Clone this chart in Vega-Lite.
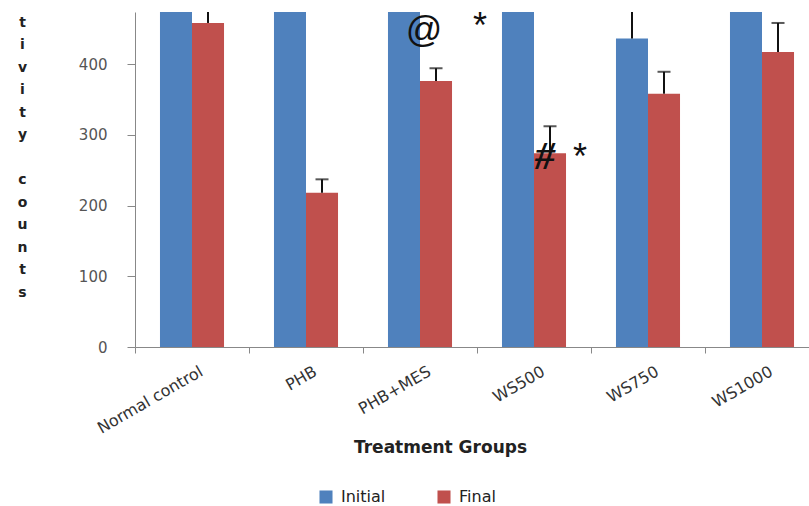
{
  "$schema": "https://vega.github.io/schema/vega-lite/v6.json",
  "autosize": "none",
  "width": 674,
  "height": 335,
  "padding": {"left": 135, "top": 12, "right": 0, "bottom": 159},
  "background": "white",
  "config": {"view": {"stroke": null}, "font": "DejaVu Sans"},
  "datasets": {
    "bars": [
      {"group": "Normal control", "series": "Initial", "value": 560, "upper": 600},
      {"group": "Normal control", "series": "Final", "value": 458, "upper": 500},
      {"group": "PHB", "series": "Initial", "value": 560, "upper": 600},
      {"group": "PHB", "series": "Final", "value": 218, "upper": 237},
      {"group": "PHB+MES", "series": "Initial", "value": 550, "upper": 590},
      {"group": "PHB+MES", "series": "Final", "value": 376, "upper": 394},
      {"group": "WS500", "series": "Initial", "value": 540, "upper": 580},
      {"group": "WS500", "series": "Final", "value": 274, "upper": 312},
      {"group": "WS750", "series": "Initial", "value": 436, "upper": 500},
      {"group": "WS750", "series": "Final", "value": 358, "upper": 389},
      {"group": "WS1000", "series": "Initial", "value": 520, "upper": 560},
      {"group": "WS1000", "series": "Final", "value": 417, "upper": 458}
    ],
    "at": [{"group": "PHB+MES", "label": "@", "value": 447}],
    "hash": [{"group": "WS500", "label": "#", "value": 268}],
    "star1": [{"group": "PHB+MES", "label": "*", "value": 461}],
    "star2": [{"group": "WS500", "label": "*", "value": 275}]
  },
  "encoding": {
    "x": {
      "field": "group",
      "type": "nominal",
      "sort": ["Normal control", "PHB", "PHB+MES", "WS500", "WS750", "WS1000"],
      "scale": {"range": [0, 684], "paddingInner": 0, "paddingOuter": 0},
      "axis": {
        "title": "Treatment Groups",
        "titleFont": "DejaVu Sans",
        "titleFontWeight": "bold",
        "titleFontSize": 17,
        "titleColor": "#222222",
        "titleX": 305,
        "titleY": 100,
        "titleAlign": "center",
        "titleBaseline": "middle",
        "labelAngle": -30,
        "labelAlign": "right",
        "labelBaseline": "top",
        "labelPadding": 10,
        "labelFontSize": 16,
        "labelColor": "#333333",
        "labelFont": "DejaVu Sans",
        "domainColor": "#888888",
        "tickColor": "#888888",
        "tickBand": "extent",
        "tickSize": 6,
        "labelOffset": 5,
        "grid": false
      }
    }
  },
  "layer": [
    {
      "data": {"name": "bars"},
      "mark": {"type": "bar", "clip": true},
      "encoding": {
        "xOffset": {"field": "series", "type": "nominal", "scale": {"domain": ["Initial", "Final"], "paddingInner": 0, "paddingOuter": 0.78}},
        "y": {
          "field": "value",
          "type": "quantitative",
          "scale": {"domain": [0, 473.5], "nice": false, "zero": true},
          "axis": {
            "title": ["t", "i", "v", "i", "t", "y", "\u2800", "c", "o", "u", "n", "t", "s"],
            "titleAngle": 0,
            "titleX": -113,
            "titleY": 3,
            "titleAlign": "center",
            "titleBaseline": "top",
            "titleLineHeight": 22.5,
            "titleFont": "DejaVu Sans",
            "titleFontWeight": "bold",
            "titleFontSize": 14,
            "titleColor": "#222222",
            "values": [0, 100, 200, 300, 400],
            "labelFontSize": 15,
            "labelColor": "#555555",
            "labelFont": "DejaVu Sans",
            "labelPadding": 20,
            "tickSize": 8,
            "tickColor": "#888888",
            "domainColor": "#888888",
            "grid": false
          }
        },
        "color": {
          "field": "series",
          "type": "nominal",
          "scale": {"domain": ["Initial", "Final"], "range": ["#4F81BD", "#C0504D"]},
          "legend": {
            "title": null,
            "orient": "none",
            "direction": "horizontal",
            "legendX": 183,
            "legendY": 477,
            "symbolType": "square",
            "symbolSize": 170,
            "symbolStrokeWidth": 0,
            "labelFontSize": 16,
            "labelFont": "DejaVu Sans",
            "labelColor": "#222222",
            "columnPadding": 50,
            "labelOffset": 7
          }
        }
      }
    },
    {
      "data": {"name": "bars"},
      "mark": {"type": "rule", "color": "#111111", "strokeWidth": 2, "clip": true},
      "encoding": {
        "xOffset": {"field": "series", "type": "nominal", "scale": {"domain": ["Initial", "Final"]}},
        "y": {"field": "value", "type": "quantitative"},
        "y2": {"field": "upper"}
      }
    },
    {
      "data": {"name": "bars"},
      "mark": {"type": "tick", "color": "#111111", "thickness": 2, "size": 13, "clip": true},
      "encoding": {
        "xOffset": {"field": "series", "type": "nominal", "scale": {"domain": ["Initial", "Final"]}},
        "y": {"field": "upper", "type": "quantitative"}
      }
    },
    {
      "data": {"name": "at"},
      "mark": {"type": "text", "font": "Liberation Sans", "fontSize": 36, "color": "#111111", "dx": 4, "baseline": "middle"},
      "encoding": {
        "y": {"field": "value", "type": "quantitative"},
        "text": {"field": "label"}
      }
    },
    {
      "data": {"name": "hash"},
      "mark": {"type": "text", "font": "Liberation Serif", "fontStyle": "italic", "fontWeight": "bold", "fontSize": 40, "color": "#111111", "dx": 11, "baseline": "middle"},
      "encoding": {
        "y": {"field": "value", "type": "quantitative"},
        "text": {"field": "label"}
      }
    },
    {
      "data": {"name": "star1"},
      "mark": {"type": "text", "font": "Liberation Sans", "fontSize": 36, "color": "#111111", "dx": 60, "dy": 6, "baseline": "middle"},
      "encoding": {
        "y": {"field": "value", "type": "quantitative"},
        "text": {"field": "label"}
      }
    },
    {
      "data": {"name": "star2"},
      "mark": {"type": "text", "font": "Liberation Sans", "fontSize": 36, "color": "#111111", "dx": 46, "dy": 6, "baseline": "middle"},
      "encoding": {
        "y": {"field": "value", "type": "quantitative"},
        "text": {"field": "label"}
      }
    }
  ]
}
